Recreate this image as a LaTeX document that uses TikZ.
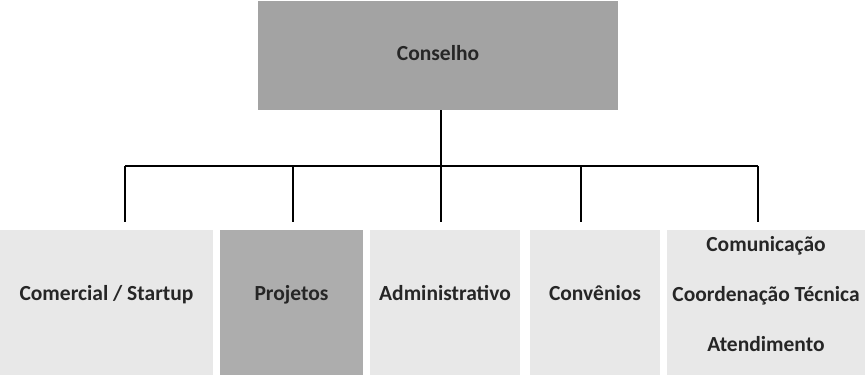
\documentclass[tikz,border=0pt]{standalone}
\usepackage{fontspec}
\setmainfont{Carlito}
\usetikzlibrary{positioning}

\begin{document}
\begin{tikzpicture}[x = 1pt, y = -1pt, font = \fontsize{21.5}{25}\selectfont\bfseries]
	\tikzstyle{boxStyle} = [shape = rectangle, inner sep = 0pt, text = black!85, minimum height = 145pt, text height = 15pt, text depth = 19pt]
	\tikzstyle{darkStyle} = [boxStyle, fill = black!36]
	\tikzstyle{lightStyle} = [boxStyle, fill = black!9]
	\tikzstyle{linkStyle} = [draw = black, line width = 1.7pt]
	\useasboundingbox (0,0) rectangle (865,377);
	% top of the chart
	\node[darkStyle, minimum width = 360pt, minimum height = 109pt, text depth = 5pt] (conselho) at (438,55.5) {Conselho};
	% the five areas below, text sits a little above the middle
	\node[lightStyle, minimum width = 213pt] (comercial) at (106.5,302.5) {Comercial / Startup};
	\node[darkStyle, fill = black!32, minimum width = 143pt] (projetos) at (291.5,302.5) {Projetos};
	\node[lightStyle, minimum width = 150pt] (admin) at (445,302.5) {Administrativo};
	\node[lightStyle, minimum width = 130pt] (convenios) at (595,302.5) {Convênios};
	\node[lightStyle, minimum width = 198pt, align = center, text height = {}, text depth = 17pt] (areas) at (766,302.5) {Comunicação\\[25pt]Coordenação Técnica\\[25pt]Atendimento};
	% branch points on the bar
	\coordinate (b1) at (125,166);
	\coordinate (b2) at (293,166);
	\coordinate (b3) at (441,166);
	\coordinate (b4) at (581,166);
	\coordinate (b5) at (758,166);
	\draw[linkStyle] (conselho.south -| b3) -- (b3);
	\draw[linkStyle] (b1) -- (b5);
	\draw[linkStyle, shorten > = 8pt] (b1) -- (comercial.north -| b1);
	\draw[linkStyle, shorten > = 8pt] (b2) -- (projetos.north -| b2);
	\draw[linkStyle, shorten > = 8pt] (b3) -- (admin.north -| b3);
	\draw[linkStyle, shorten > = 8pt] (b4) -- (convenios.north -| b4);
	\draw[linkStyle, shorten > = 8pt] (b5) -- (areas.north -| b5);
\end{tikzpicture}
\end{document}
